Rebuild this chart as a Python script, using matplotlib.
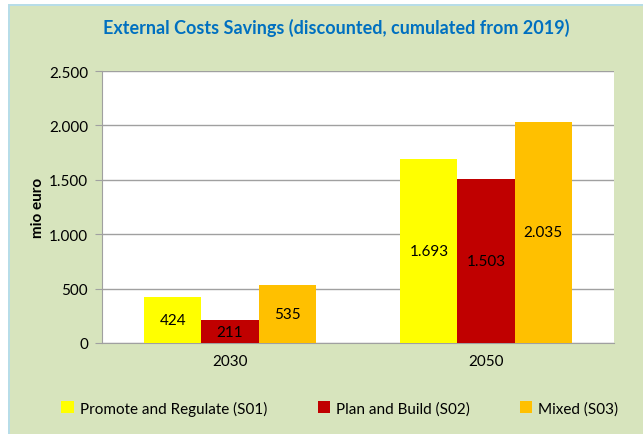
import matplotlib
matplotlib.use("Agg")
import matplotlib.pyplot as plt
from matplotlib.patches import Rectangle
import numpy as np

categories = ["2030", "2050"]
series_names = ["Promote and Regulate (S01)", "Plan and Build (S02)", "Mixed (S03)"]
s01 = [424, 1693]
s02 = [211, 1503]
s03 = [535, 2035]
colors = ["#FFFF00", "#C00000", "#FFC000"]
yticks = [0, 500, 1000, 1500, 2000, 2500]
ytick_labels = ["0", "500", "1.000", "1.500", "2.000", "2.500"]

W, H = 643, 435
fig = plt.figure(figsize=(W / 100, H / 100), dpi=100)
fig.patch.set_facecolor("white")
font = ["Lato", "DejaVu Sans"]
plt.rcParams["font.family"] = font

# background panel
fig.patches.append(Rectangle((8 / W, 0), 1 - 8 / W, 1 - 5 / H, transform=fig.transFigure,
                             facecolor="#B7DDE8", edgecolor="none", zorder=-10))
fig.patches.append(Rectangle((10 / W, 0), 1 - 10 / W, 1 - 7 / H, transform=fig.transFigure,
                             facecolor="#D7E4BD", edgecolor="none", zorder=-9))

left, right, top, bottom = 102, 614, 72, 344
ax = fig.add_axes([left / W, 1 - bottom / H, (right - left) / W, (bottom - top) / H])
ax.set_zorder(1)
ax.set_facecolor("white")

x = np.arange(len(categories))
bw = 0.2227
for i, (vals, c) in enumerate(zip([s01, s02, s03], colors)):
    bars = ax.bar(x + (i - 1) * bw, vals, bw, color=c, label=series_names[i], zorder=3)
    for b, v in zip(bars, vals):
        lbl = f"{v:,}".replace(",", ".")
        ax.text(b.get_x() + b.get_width() / 2, v / 2, lbl, ha="center", va="center",
                fontsize=11, color="black", zorder=4)

ax.set_xlim(-0.5, 1.5)
ax.set_ylim(0, 2500)
ax.set_yticks(yticks)
ax.set_yticklabels(ytick_labels, fontsize=11)
ax.set_xticks(x)
ax.set_xticklabels(categories, fontsize=11)
ax.yaxis.grid(True, color="#A0A0A0", linewidth=1, zorder=0)
ax.set_axisbelow(True)
for s in ["top", "right"]:
    ax.spines[s].set_visible(False)
ax.spines["left"].set_color("#A0A0A0")
ax.spines["bottom"].set_color("#A0A0A0")
ax.tick_params(axis="y", length=5, color="#A0A0A0", pad=5)
ax.tick_params(axis="x", length=0, pad=8)
ax.set_ylabel("mio euro", fontsize=11, fontweight="bold", labelpad=3)

fig.text(336 / W, 1 - 28 / H, "External Costs Savings (discounted, cumulated from 2019)",
         ha="center", va="center", fontsize=13, fontweight="bold", color="#0070C0")

leg = fig.legend(loc="center", bbox_to_anchor=(340 / W, 1 - 409 / H), ncol=3, frameon=False,
                 fontsize=11, handlelength=0.8, handleheight=0.8, handletextpad=0.4,
                 columnspacing=3.3)

fig.savefig("out.png", dpi=100, facecolor=fig.get_facecolor())
